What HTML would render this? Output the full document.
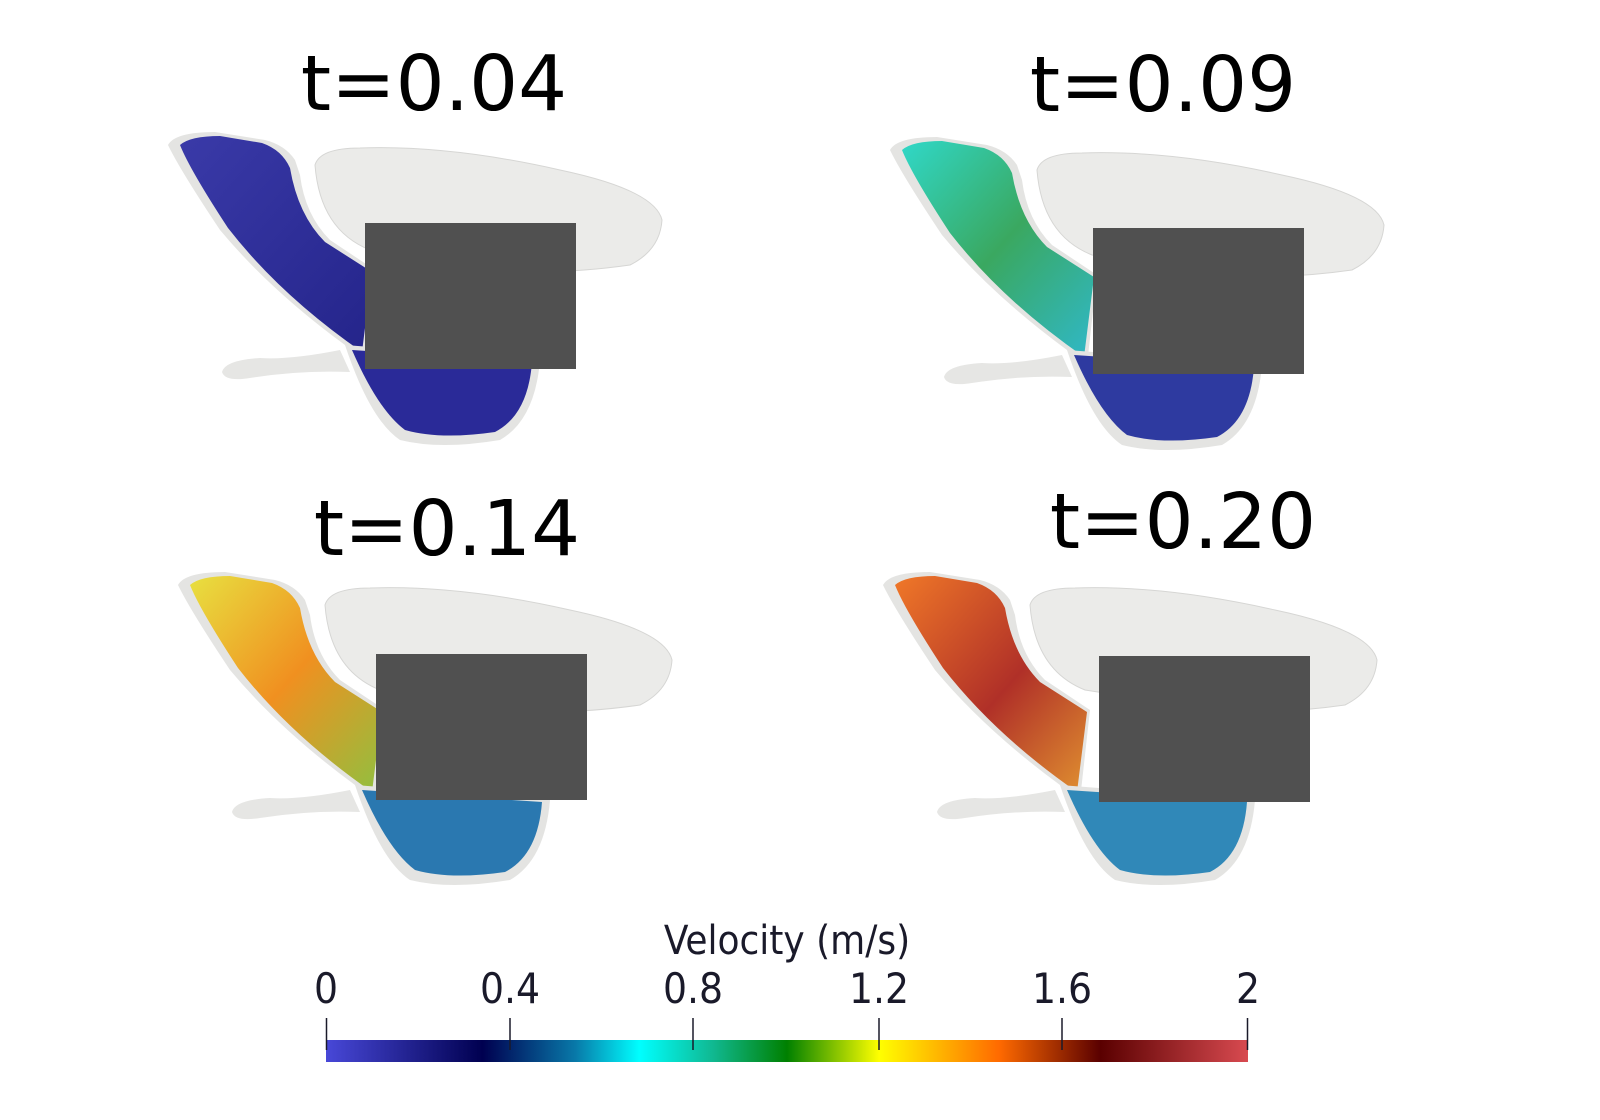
<!DOCTYPE html>
<html><head><meta charset="utf-8"><style>
html,body{margin:0;padding:0;background:#fff;}
svg{display:block;}
</style></head><body>
<svg width="1600" height="1120" viewBox="0 0 1600 1120" xmlns="http://www.w3.org/2000/svg" font-family="'DejaVu Sans','Liberation Sans',sans-serif">
<defs>
<linearGradient id="cb" x1="0" x2="1" y1="0" y2="0">
<stop offset="0" stop-color="#4848d8"/>
<stop offset="0.17" stop-color="#000050"/>
<stop offset="0.27" stop-color="#0878a8"/>
<stop offset="0.34" stop-color="#00ffff"/>
<stop offset="0.42" stop-color="#10b890"/>
<stop offset="0.5" stop-color="#008000"/>
<stop offset="0.6" stop-color="#ffff00"/>
<stop offset="0.73" stop-color="#ff6a00"/>
<stop offset="0.84" stop-color="#5a0000"/>
<stop offset="1" stop-color="#d84a50"/>
</linearGradient>
<linearGradient id="t1" x1="0" y1="0" x2="1" y2="1"><stop offset="0" stop-color="#3a3aa8"/><stop offset="1" stop-color="#24248a"/></linearGradient>
<linearGradient id="t2" x1="0" y1="0" x2="1" y2="1"><stop offset="0" stop-color="#30d8c8"/><stop offset="0.5" stop-color="#3aa860"/><stop offset="1" stop-color="#30b8c8"/></linearGradient>
<linearGradient id="t3" x1="0" y1="0" x2="1" y2="1"><stop offset="0" stop-color="#e8e040"/><stop offset="0.5" stop-color="#f09020"/><stop offset="1" stop-color="#90c040"/></linearGradient>
<linearGradient id="t4" x1="0" y1="0" x2="1" y2="1"><stop offset="0" stop-color="#f07828"/><stop offset="0.55" stop-color="#b03028"/><stop offset="1" stop-color="#e09030"/></linearGradient>
<g id="vessel">
<path d="M340,350 Q290,360 260,358 Q225,360 222,372 Q225,382 250,378 Q300,370 350,372 Z" fill="#e6e6e4"/>
<path d="M315,165 Q320,148 360,148 Q450,145 560,170 Q655,190 662,220 Q660,250 630,265 Q560,275 500,270 L370,250 Q320,230 315,165Z" fill="#ebebe9" stroke="#d6d6d4"/>
<path d="M168,145 Q175,132 215,132 L265,140 Q285,145 295,160 L300,175 Q305,215 330,240 L375,270 L365,360 L345,345 Q270,290 220,230 Q180,170 168,145 Z" fill="#e4e4e2"/>
</g>
</defs>
<g>
<use href="#vessel"/>
<path d="M180,145 Q190,136 220,136 L262,143 Q282,150 290,168 Q298,215 325,242 L372,272 L362,352 Q280,295 228,228 Q190,170 180,145Z" fill="url(#t1)"/>
<path d="M345,345 L540,360 Q535,420 500,440 Q440,450 400,440 Q370,420 345,345Z" fill="#e4e4e2"/>
<path d="M352,350 L532,362 Q528,415 495,432 Q440,440 405,430 Q378,410 352,350Z" fill="#2a2a98"/>
<rect x="365" y="223" width="211" height="146" fill="#505050"/>
<text x="434" y="110" font-size="77" text-anchor="middle" fill="#000">t=0.04</text>
</g>
<g transform="translate(722,5)">
<use href="#vessel"/>
<path d="M180,145 Q190,136 220,136 L262,143 Q282,150 290,168 Q298,215 325,242 L372,272 L362,352 Q280,295 228,228 Q190,170 180,145Z" fill="url(#t2)"/>
<path d="M345,345 L540,360 Q535,420 500,440 Q440,450 400,440 Q370,420 345,345Z" fill="#e4e4e2"/>
<path d="M352,350 L532,362 Q528,415 495,432 Q440,440 405,430 Q378,410 352,350Z" fill="#2e3aa0"/>
<rect x="371" y="223" width="211" height="146" fill="#505050"/>
<text x="441" y="106" font-size="77" text-anchor="middle" fill="#000">t=0.09</text>
</g>
<g transform="translate(10,440)">
<use href="#vessel"/>
<path d="M180,145 Q190,136 220,136 L262,143 Q282,150 290,168 Q298,215 325,242 L372,272 L362,352 Q280,295 228,228 Q190,170 180,145Z" fill="url(#t3)"/>
<path d="M345,345 L540,360 Q535,420 500,440 Q440,450 400,440 Q370,420 345,345Z" fill="#e4e4e2"/>
<path d="M352,350 L532,362 Q528,415 495,432 Q440,440 405,430 Q378,410 352,350Z" fill="#2a78b0"/>
<rect x="366" y="214" width="211" height="146" fill="#505050"/>
<text x="437" y="115" font-size="77" text-anchor="middle" fill="#000">t=0.14</text>
</g>
<g transform="translate(715,440)">
<use href="#vessel"/>
<path d="M180,145 Q190,136 220,136 L262,143 Q282,150 290,168 Q298,215 325,242 L372,272 L362,352 Q280,295 228,228 Q190,170 180,145Z" fill="url(#t4)"/>
<path d="M345,345 L540,360 Q535,420 500,440 Q440,450 400,440 Q370,420 345,345Z" fill="#e4e4e2"/>
<path d="M352,350 L532,362 Q528,415 495,432 Q440,440 405,430 Q378,410 352,350Z" fill="#3088b8"/>
<rect x="384" y="216" width="211" height="146" fill="#505050"/>
<text x="468" y="108" font-size="77" text-anchor="middle" fill="#000">t=0.20</text>
</g>
<text x="787" y="954" font-size="40" text-anchor="middle" fill="#1a1a2a" font-family="'DejaVu Sans Condensed','Liberation Sans Narrow','Liberation Sans',sans-serif">Velocity (m/s)</text>
<g font-size="42" text-anchor="middle" fill="#1a1a2a" font-family="'DejaVu Sans Condensed','Liberation Sans Narrow',sans-serif">
<text x="326" y="1003">0</text><text x="510" y="1003">0.4</text><text x="693" y="1003">0.8</text><text x="879" y="1003">1.2</text><text x="1062" y="1003">1.6</text><text x="1248" y="1003">2</text>
</g>
<rect x="326" y="1040" width="922" height="22" fill="url(#cb)"/>
<g stroke="#1a1a2a" stroke-width="1.5">
<line x1="326.5" y1="1018" x2="326.5" y2="1050"/><line x1="510" y1="1018" x2="510" y2="1050"/><line x1="693" y1="1018" x2="693" y2="1050"/><line x1="879" y1="1018" x2="879" y2="1050"/><line x1="1062" y1="1018" x2="1062" y2="1050"/><line x1="1247.5" y1="1018" x2="1247.5" y2="1050"/>
</g>
</svg>
</body></html>
